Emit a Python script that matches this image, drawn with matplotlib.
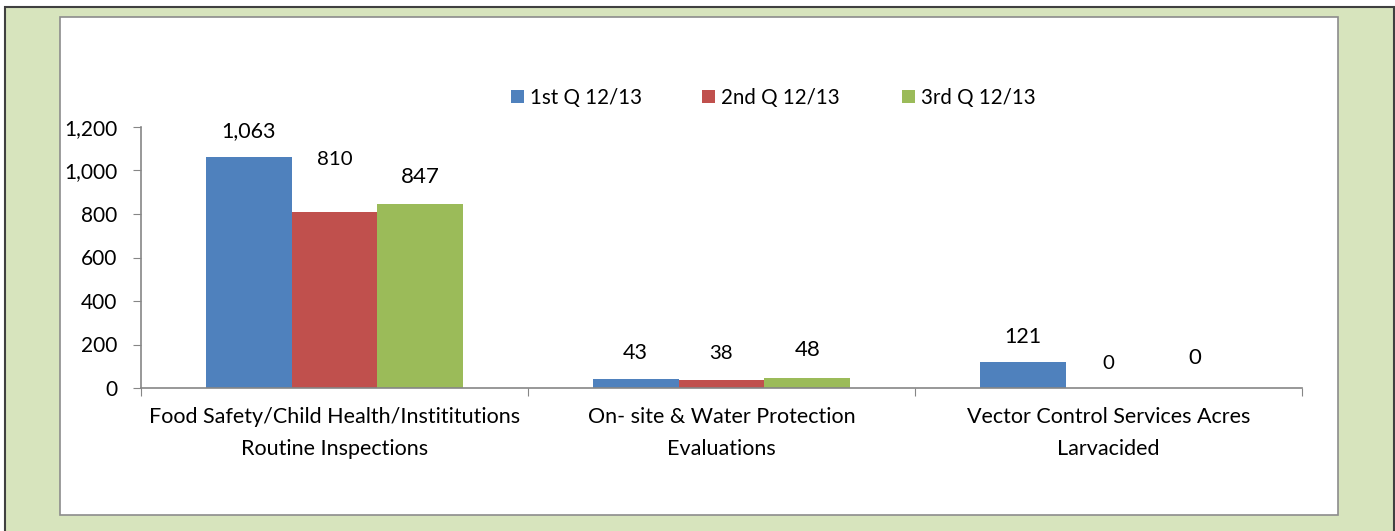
import matplotlib
matplotlib.use("Agg")
import matplotlib.pyplot as plt
from matplotlib.patches import Rectangle
from matplotlib.legend import Legend
import numpy as np

categories = ["Food Safety/Child Health/Instititutions\nRoutine Inspections",
              "On- site & Water Protection\nEvaluations",
              "Vector Control Services Acres\nLarvacided"]
series_names = ["1st Q 12/13", "2nd Q 12/13", "3rd Q 12/13"]
q1 = [1063, 43, 121]
q2 = [810, 38, 0]
q3 = [847, 48, 0]
colors = ["#4F81BD", "#C0504D", "#9BBB59"]
label_sizes = [15.5, 14.7, 16]
# label lift (points) per series/category
label_pad = [[18.7, 18.4, 17.8], [37.4, 19.2, 17.3], [19.4, 19.9, 21.6]]
yticks = [0, 200, 400, 600, 800, 1000, 1200]
legend_x = [511, 702, 902]  # pixel x of each legend swatch

W, H = 1395, 531
fig = plt.figure(figsize=(W / 100, H / 100), dpi=100)
plt.rcParams['font.family'] = ['Lato', 'DejaVu Sans']

def fx(x):
    return x / W

def fy(y):
    return 1 - y / H

# outer green frame
fig.patches.append(Rectangle((fx(5), fy(535)), fx(1394) - fx(5), fy(7) - fy(535),
                             transform=fig.transFigure, facecolor="#D7E4BD",
                             edgecolor="#404040", linewidth=1.5, zorder=-2))
# white panel
fig.patches.append(Rectangle((fx(60), fy(515)), fx(1338) - fx(60), fy(17) - fy(515),
                             transform=fig.transFigure, facecolor="white",
                             edgecolor="#8C8C8C", linewidth=1.2, zorder=-1))

ax = fig.add_axes([fx(141), fy(388), fx(1302) - fx(141), fy(127) - fy(388)])
ax.set_zorder(1)
ax.set_facecolor("none")
x = np.arange(len(categories))
bw = 0.222
data = [q1, q2, q3]
handles = []
for i, (vals, c) in enumerate(zip(data, colors)):
    pos = x + (i - 1) * bw
    b = ax.bar(pos, vals, width=bw, color=c, label=series_names[i], zorder=2)
    handles.append(b)
    for j, (p, v) in enumerate(zip(pos, vals)):
        ax.annotate(f"{v:,}", (p, v), xytext=(0, label_pad[i][j]), textcoords="offset points",
                    ha="center", va="center", fontsize=label_sizes[i], color="black")

ax.set_xlim(-0.5, 2.5)
ax.set_ylim(0, 1200)
ax.set_yticks(yticks)
ax.set_yticklabels([f"{t:,}" for t in yticks], fontsize=15)
ax.set_xticks([-0.5, 0.5, 1.5, 2.5])
ax.set_xticklabels([])
ax.set_xticks(x, minor=True)
ax.set_xticklabels(categories, minor=True, fontsize=15.5, linespacing=1.75)
ax.tick_params(axis="x", which="minor", length=0, pad=14)
ax.tick_params(axis="x", which="major", length=6, color="#868686", direction="out")
ax.tick_params(axis="y", length=6, color="#868686", direction="out", pad=11)
for s in ["top", "right"]:
    ax.spines[s].set_visible(False)
for s in ["left", "bottom"]:
    ax.spines[s].set_color("#868686")
    ax.spines[s].set_linewidth(1.2)

for h, name, lx in zip(handles, series_names, legend_x):
    lg = Legend(ax, [h], [name], loc="center left",
                bbox_to_anchor=(fx(lx), fy(98)), bbox_transform=fig.transFigure,
                frameon=False, fontsize=14.8, handlelength=0.63, handleheight=0.6,
                handletextpad=0.3, borderpad=0, borderaxespad=0)
    ax.add_artist(lg)

fig.savefig("out.png", dpi=100)
